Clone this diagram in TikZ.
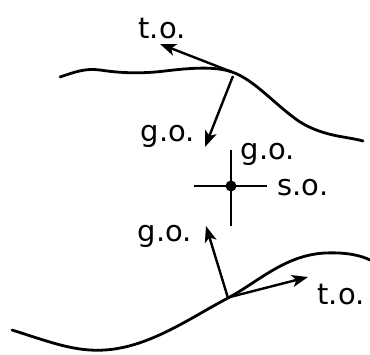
\documentclass[tikz,border=0pt]{standalone}
\usepackage{fontspec}
\setmainfont{DejaVu Sans}
\usetikzlibrary{arrows.meta}
\begin{document}
\begin{tikzpicture}[x=1pt,y=-1pt,
  curve/.style={line width=2.8pt,line cap=round,line join=round},
  vec/.style={line width=2.4pt,-{Stealth[length=16pt,width=12pt,inset=4pt]}},
  lab/.style={font=\fontsize{29}{31}\selectfont,inner sep=0pt}]
\useasboundingbox[fill=white] (0,0) rectangle (370,354);
% upper wall
\coordinate (U) at (232,72);
\draw[curve] (60,77) .. controls (75,72) and (85,68) .. (100,70)
  .. controls (120,73) and (140,74) .. (165,71)
  .. controls (190,68) and (215,66) .. (U)
  .. controls (255,80) and (275,105) .. (300,122)
  .. controls (325,137) and (345,136) .. (363,141);
% lower wall
\coordinate (L) at (228,298);
\draw[curve] (12,330) .. controls (50,342) and (75,352) .. (105,350)
  .. controls (150,347) and (190,318) .. (L)
  .. controls (258,282) and (285,255) .. (325,253)
  .. controls (348,252) and (362,256) .. (370,260);
% upper vectors
\node[lab] (to1) at (162,29) {t.o.};
\coordinate (to1tip) at (160,44);
\draw[vec] (U) -- (to1tip);
\node[lab] (go1) at (168,136) {g.o.};
\coordinate (go1tip) at (205,147);
\draw[vec] (233,76) -- (go1tip);
% lower vectors
\node[lab] (go3) at (165,236) {g.o.};
\coordinate (go3tip) at (206,226);
\draw[vec] (L) -- (go3tip);
\node[lab] (to2) at (341,295) {t.o.};
\coordinate (to2tip) at (308,277);
\draw[vec] (230,297) -- (to2tip);
% cross
\coordinate (C) at (231,186);
\draw[line width=2.4pt] (194,186) -- (267,186);
\draw[line width=2.4pt] (231,150) -- (231,226);
\fill (C) circle (5.5);
\node[lab] (go2) at (268,154) {g.o.};
\node[lab] (so) at (303,188) {s.o.};
\end{tikzpicture}
\end{document}
